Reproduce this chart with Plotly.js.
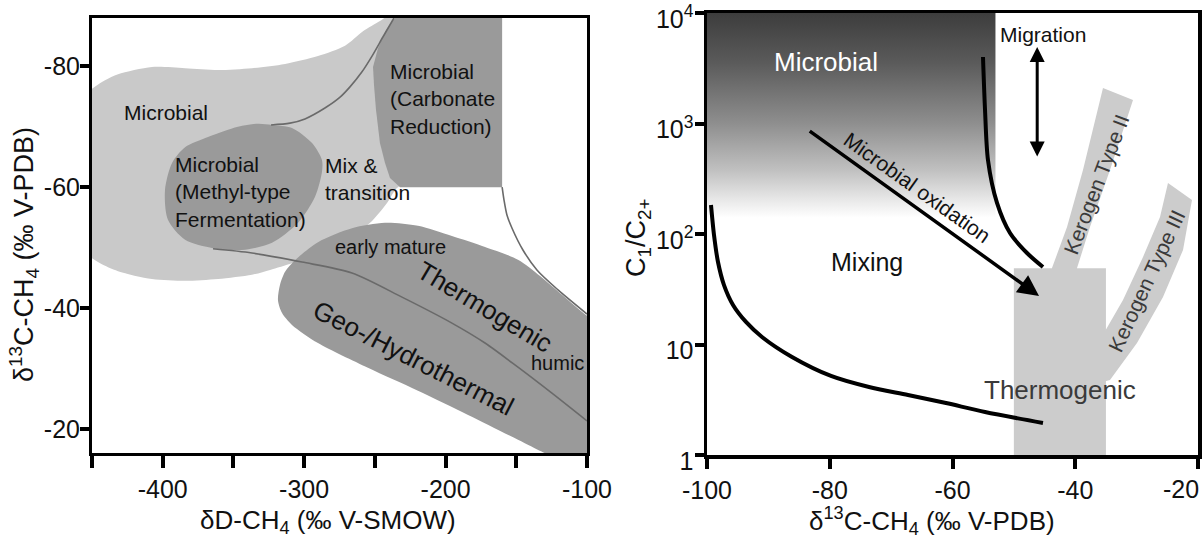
<!DOCTYPE html>
<html>
<head>
<meta charset="utf-8">
<script src="https://cdn.plot.ly/plotly-3.0.1.min.js"></script>
<style>html,body{margin:0;padding:0;background:#fff;}#chart{width:1202px;height:541px;}</style>
</head>
<body>
<div id="chart"></div>
<script>
// ---------------- Left panel data (dD-CH4 vs d13C-CH4) ----------------
const leftXTickVals = [-450, -400, -350, -300, -250, -200, -150, -100];
const leftXTickText = ['', '-400', '', '-300', '', '-200', '', '-100'];
const leftYTickVals = [-80, -60, -40, -20];
const leftYTickText = ['-80', '-60', '-40', '-20'];

const microbialLightX = [-455,-440.8,-431.6,-407.6,-384.2,-360.9,-336.9,-313.5,-290.2,-271.1,-258.4,-246.4,-237,-225,-220,-225,-235.8,-241.4,-253.4,-267.6,-281.7,-295.9,-308.6,-324.1,-336.9,-360.9,-384.2,-407.6,-431.6,-444.3,-455];
const microbialLightY = [-75.5,-77.7,-78.7,-79.9,-79.7,-79.4,-79.7,-80.4,-81.7,-83.4,-85.8,-87.5,-89,-90,-75,-62,-59.5,-57.4,-54.1,-51.6,-49.6,-48.4,-47.4,-46.3,-45.5,-44.8,-44.5,-44.8,-46.1,-47.4,-49];

const carbonateX = [-235.8,-160,-160,-232.2,-239.3,-242.8,-246.4,-249.2,-250.6,-251.3,-247.8,-242.1];
const carbonateY = [-88,-88,-60,-60,-61.5,-64.0,-67.3,-72.8,-76.9,-79.9,-83.0,-86.0];

const methylX = [-322.7,-308.6,-294.4,-287.4,-287.4,-292.3,-304.3,-322.7,-343.9,-364.4,-384.2,-396.3,-398.4,-393.4,-384.2,-368.0,-346.8,-332.6,-322.7];
const methylY = [-70.3,-69.8,-67.3,-64.5,-62.5,-58.4,-54.1,-50.8,-49.6,-49.9,-51.3,-54.6,-59.5,-64.0,-66.6,-68.3,-70.0,-70.5,-70.3];

const thermoLeftX = [-318.5,-317.1,-313.5,-306.5,-290.2,-266.2,-242.8,-219.5,-195.5,-172.1,-148.8,-133.2,-117.7,-100,-90,-90,-120,-130,-140.3,-148.8,-184.1,-219.5,-254.9,-290.2,-308.6,-315.7,-318.5];
const thermoLeftY = [-41.3,-43.8,-46.0,-47.9,-50.9,-53.2,-54.1,-53.6,-51.9,-50.1,-48.0,-45.3,-42.2,-38.7,-37,-12,-15,-16,-17.2,-18.2,-22.3,-26.3,-30.1,-34.2,-37.2,-39.2,-41.3];

const lineAX = [-323.4,-310.0,-299.4,-285.3,-274.6,-267.6,-259.1,-252.0,-244.2,-236.5];
const lineAY = [-70.3,-70.6,-71.3,-73.1,-74.9,-76.6,-79.1,-81.7,-84.9,-88];
const lineBX = [-364.4,-336.9,-301.5,-266.2,-230.8,-195.5,-172.1,-148.8,-124.8,-100];
const lineBY = [-49.8,-49.1,-47.6,-45.8,-41.8,-37.5,-34.2,-30.2,-25.9,-21.3];
const lineCX = [-160,-158.7,-156.6,-153.0,-145.3,-135.4,-120.5,-100];
const lineCY = [-60,-57.9,-55.4,-53.2,-49.6,-46.3,-43.0,-39.0];

// ---------------- Right panel data (d13C-CH4 vs C1/C2+) ----------------
const rightXTickVals = [-100, -80, -60, -40, -20];
const rightXTickText = ['-100', '-80', '-60', '-40', ''];   // '-20' drawn flush with the right edge
const rightLastTickText = '-20';
const rightYTickVals = [1, 10, 100, 1000, 10000];
const rightYTickText = ['1', '10', '10<sup>2</sup>', '10<sup>3</sup>', '10<sup>4</sup>'];

const microbialGradX = [-100, -53, -53, -100, -100];
const microbialGradY = [10000, 10000, 140, 140, 10000];

const thermoRectX = [-50, -35, -35, -50, -50];
const thermoRectY = [1, 1, 49, 49, 1];

const kerogen2X = [-43.79,-41.34,-38.74,-35.48,-30.59,-34.34,-37.60,-39.71,-39.71,-43.79,-43.79];
const kerogen2Y = [49.2,115.7,379,2095,1633,379,115.7,49.2,40,40,49.2];

const kerogen3X = [-35.32,-32.22,-28.96,-26.19,-24.89,-20.98,-22.44,-25.70,-29.94,-34.34,-36,-36,-35.32];
const kerogen3Y = [12.7,25.3,61.9,142.5,289,203,71.7,26.9,10.3,4.77,4.5,12.7,12.7];

const upperCurveX = [-55.03,-54.70,-54.22,-52.75,-50.63,-47.86,-45.26];
const upperCurveY = [4000,1325,467,191,102,67.3,50.3];

const lowerCurveX = [-99.35,-98.86,-98.21,-97.23,-95.76,-93.65,-91.04,-86.15,-79.80,-73.60,-67.25,-61.06,-54.70,-45.26];
const lowerCurveY = [183,98,55.8,34.5,22.8,16.0,11.7,7.71,5.19,4.12,3.49,2.95,2.45,1.95];

const oxidationArrowX = [-83.5, -45.9];   // start, tip
const oxidationArrowY = [873, 27.5];
const migrationArrowX = [-46.2, -46.2];   // bottom, top
const migrationArrowY = [487, 4922];

// ---------------- Build figure ----------------
const FONT = 'Liberation Sans, Arial, Helvetica, sans-serif';
const LIGHT = '#c9c9c9';
const DARK = '#9a9a9a';
const L = (v) => Math.log10(v);

function fillTrace(x, y, color, xa, ya, shape) {
  return {type:'scatter', x:x, y:y, xaxis:xa, yaxis:ya, mode:'lines', fill:'toself',
    fillcolor:color, line:{width:0, color:color, shape:shape||'linear', smoothing:0.8}, hoverinfo:'skip'};
}
function lineTrace(x, y, color, width, xa, ya) {
  return {type:'scatter', x:x, y:y, xaxis:xa, yaxis:ya, mode:'lines',
    line:{color:color, width:width, shape:'spline', smoothing:0.8}, hoverinfo:'skip'};
}

const traces = [
  fillTrace(microbialLightX, microbialLightY, LIGHT, 'x', 'y', 'spline'),
  fillTrace(carbonateX, carbonateY, DARK, 'x', 'y', 'linear'),
  fillTrace(methylX, methylY, DARK, 'x', 'y', 'spline'),
  fillTrace(thermoLeftX, thermoLeftY, DARK, 'x', 'y', 'spline'),
  lineTrace(lineAX, lineAY, '#6a6a6a', 1.6, 'x', 'y'),
  lineTrace(lineBX, lineBY, '#6a6a6a', 1.6, 'x', 'y'),
  lineTrace(lineCX, lineCY, '#6a6a6a', 1.6, 'x', 'y'),
  {type:'scatter', x:microbialGradX, y:microbialGradY, xaxis:'x2', yaxis:'y2', mode:'none', fill:'toself',
   fillgradient:{type:'vertical', colorscale:[[0,'#ffffff'],[0.088,'#e8e8e8'],[0.234,'#c0c0c0'],[0.463,'#8e8e8e'],[0.761,'#5a5a5a'],[1,'#3d3d3d']]},
   hoverinfo:'skip'},
  fillTrace(thermoRectX, thermoRectY, '#cccccc', 'x2', 'y2', 'linear'),
  fillTrace(kerogen2X, kerogen2Y, '#cccccc', 'x2', 'y2', 'linear'),
  fillTrace(kerogen3X, kerogen3Y, '#cccccc', 'x2', 'y2', 'linear'),
  lineTrace(upperCurveX, upperCurveY, '#000', 4, 'x2', 'y2'),
  lineTrace(lowerCurveX, lowerCurveY, '#000', 4, 'x2', 'y2')
];

function txt(text, x, y, xref, yref, size, opts) {
  return Object.assign({text:text, x:x, y:y, xref:xref, yref:yref, showarrow:false,
    font:{family:FONT, size:size, color:'#111'}, xanchor:'center', yanchor:'middle'}, opts||{});
}

const annotations = [
  // left panel labels
  txt('Microbial', -397.7, -72.3, 'x', 'y', 21),
  txt('Microbial<br>(Methyl-type<br>Fermentation)', -392.7, -59.2, 'x', 'y', 21, {xanchor:'left', align:'left'}),
  txt('Mix &amp;<br>transition', -286.7, -61.3, 'x', 'y', 21, {xanchor:'left', align:'left'}),
  txt('Microbial<br>(Carbonate<br>Reduction)', -240.7, -74.6, 'x', 'y', 21, {xanchor:'left', align:'left'}),
  txt('early mature', -238.6, -50.1, 'x', 'y', 20),
  txt('Thermogenic', -172.1, -40.2, 'x', 'y', 26, {textangle:30.8}),
  txt('Geo-/Hydrothermal', -223.0, -31.7, 'x', 'y', 26, {textangle:27}),
  txt('humic', -121.2, -30.9, 'x', 'y', 20),
  // right panel labels
  txt('Microbial', -80.6, L(3604), 'x2', 'y2', 26, {font:{family:FONT, size:26, color:'#ffffff'}}),
  txt('Mixing', -73.9, L(55.8), 'x2', 'y2', 25),
  txt('Migration', -45.3, L(6330), 'x2', 'y2', 21),
  txt('Microbial oxidation', -65.8, L(261), 'x2', 'y2', 21, {textangle:35.4}),
  txt('Thermogenic', -42.5, L(3.88), 'x2', 'y2', 26, {font:{family:FONT, size:26, color:'#3a3a3a'}}),
  txt('Kerogen Type II', -36.6, L(283), 'x2', 'y2', 21, {textangle:-69, font:{family:FONT, size:21, color:'#3a3a3a'}}),
  txt('Kerogen Type III', -28.3, L(37.6), 'x2', 'y2', 21, {textangle:-65, font:{family:FONT, size:21, color:'#3a3a3a'}}),
  // last x tick label of the right panel, kept inside the picture
  txt(rightLastTickText, 1201/1202, 1-489/541, 'paper', 'paper', 25, {xanchor:'right'}),
  // arrows
  {x:oxidationArrowX[1], y:L(oxidationArrowY[1]), ax:oxidationArrowX[0], ay:L(oxidationArrowY[0]),
   xref:'x2', yref:'y2', axref:'x2', ayref:'y2', text:'', showarrow:true, arrowhead:2, arrowsize:1.2,
   arrowwidth:3.5, arrowcolor:'#000'},
  {x:migrationArrowX[1], y:L(migrationArrowY[1]), ax:migrationArrowX[0], ay:L(migrationArrowY[0]),
   xref:'x2', yref:'y2', axref:'x2', ayref:'y2', text:'', showarrow:true, arrowhead:2, startarrowhead:2,
   arrowside:'end+start', arrowsize:1, startarrowsize:1, arrowwidth:3, arrowcolor:'#000'},
  // axis titles
  txt('δ<sup>13</sup>C-CH<sub>4</sub> (‰ V-PDB)', 24/1202, 1-255/541, 'paper', 'paper', 27, {textangle:-90}),
  txt('δD-CH<sub>4</sub> (‰ V-SMOW)', 328/1202, 1-521/541, 'paper', 'paper', 26),
  txt('C<sub>1</sub>/C<sub>2+</sub>', 638/1202, 1-238/541, 'paper', 'paper', 27, {textangle:-90}),
  txt('δ<sup>13</sup>C-CH<sub>4</sub> (‰ V-PDB)', 932/1202, 1-521/541, 'paper', 'paper', 26)
];

const axBase = {showgrid:false, zeroline:false, showline:true, mirror:true, linecolor:'#000',
  ticks:'outside', tickcolor:'#000', tickfont:{family:FONT, size:25, color:'#111'}, fixedrange:true,
  ticklabeloverflow:'allow'};

const layout = {
  width:1202, height:541, margin:{l:0, r:0, t:0, b:0},
  paper_bgcolor:'#fff', plot_bgcolor:'#fff', showlegend:false,
  font:{family:FONT, size:24, color:'#111'},
  xaxis:Object.assign({}, axBase, {domain:[92/1202, 587/1202], range:[-450,-100], anchor:'y',
    tickmode:'array', tickvals:leftXTickVals, ticktext:leftXTickText, ticklen:12, tickwidth:4, linewidth:3}),
  yaxis:Object.assign({}, axBase, {domain:[1-453/541, 1-18/541], range:[-16,-88], anchor:'x',
    tickmode:'array', tickvals:leftYTickVals, ticktext:leftYTickText, ticklen:9, tickwidth:4, linewidth:3,
    ticklabelstandoff:-5}),
  xaxis2:Object.assign({}, axBase, {domain:[707/1202, 1198/1202], range:[-100,-20], anchor:'y2',
    tickmode:'array', tickvals:rightXTickVals, ticktext:rightXTickText, ticklen:10, tickwidth:4, linewidth:3.5}),
  yaxis2:Object.assign({}, axBase, {domain:[1-455/541, 1-13/541], type:'log', range:[0,4], anchor:'x2',
    tickmode:'array', tickvals:rightYTickVals, ticktext:rightYTickText, ticklen:9, tickwidth:4, linewidth:3.5,
    ticklabelstandoff:-4, ticklabelshift:6}),
  annotations:annotations
};

Plotly.newPlot('chart', traces, layout, {staticPlot:true, displayModeBar:false});
</script>
</body>
</html>
